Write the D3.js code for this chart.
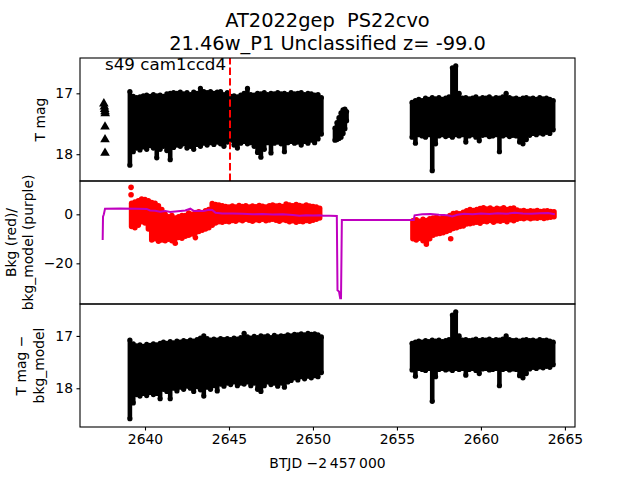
<!DOCTYPE html>
<html><head><meta charset="utf-8">
<script src="https://cdn.jsdelivr.net/npm/d3@7"></script>
<style>body{margin:0;background:#fff}svg{display:block}text{font-family:"DejaVu Sans",sans-serif;white-space:pre}</style>
</head><body><svg id="c" width="640" height="480"></svg>
<script>
// ---------- data ----------
const titleLines = ["AT2022gep  PS22cvo", "21.46w_P1 Unclassified z= -99.0"];
const sectorLabel = "s49 cam1ccd4";
const xTicks = [2640, 2645, 2650, 2655, 2660, 2665];
const magTicks = [17, 18];
const bkgTicks = [0, -20];
const markerTime = 2645.06;
// upper limits (triangles) [t, mag]
const upperLimits = [[2637.55,17.17],[2637.58,17.22],[2637.6,17.26],[2637.62,17.3],[2637.63,17.33],[2637.62,17.55],[2637.62,17.76],[2637.62,17.98]];
// top panel: binned light curve envelope [t, brightest, faintest]
const lcTop1 = [[2639.1,16.97,18.18],[2639.3,17.05,17.96],[2639.5,17.07,17.9],[2639.7,17.06,17.93],[2639.9,17.04,17.88],[2640.1,17.03,17.92],[2640.3,17.05,17.86],[2640.5,17.02,17.9],[2640.7,17.04,18.06],[2640.9,17.03,17.92],[2641.1,17.05,17.87],[2641.3,17.01,17.94],[2641.5,17.0,18.09],[2641.7,16.99,17.89],[2641.9,17.0,17.85],[2642.1,16.98,17.87],[2642.3,17.01,17.83],[2642.5,16.99,17.9],[2642.7,17.02,17.87],[2642.9,16.98,17.92],[2643.1,17.0,17.84],[2643.3,16.92,17.87],[2643.5,16.97,17.82],[2643.7,16.99,17.85],[2643.9,16.97,17.81],[2644.1,17.0,17.84],[2644.3,16.98,17.8],[2644.5,16.97,17.83],[2644.7,17.02,17.87],[2644.9,16.99,17.8],[2645.1,17.05,17.77],[2645.3,17.04,17.85],[2645.5,17.06,17.9],[2645.7,17.03,17.82],[2645.9,17.0,17.79],[2646.1,16.92,17.83],[2646.3,17.02,17.81],[2646.5,17.03,17.87],[2646.7,17.0,17.97],[2646.9,17.01,18.05],[2647.1,16.99,17.92],[2647.3,17.02,17.81],[2647.5,17.0,17.98],[2647.7,17.01,17.82],[2647.9,16.99,17.8],[2648.1,17.01,17.83],[2648.3,17.0,17.96],[2648.5,17.02,17.81],[2648.7,16.99,17.79],[2648.9,17.01,17.82],[2649.1,17.0,17.8],[2649.3,16.99,17.85],[2649.5,17.02,17.79],[2649.7,17.0,17.82],[2649.9,17.01,17.77],[2650.1,17.03,17.81],[2650.3,17.02,17.75],[2650.5,17.07,17.67]];
const lcTopBlob = [[2651.31,17.57,17.77],[2651.43,17.48,17.76],[2651.55,17.4,17.74],[2651.67,17.32,17.72],[2651.79,17.27,17.66],[2651.9,17.26,17.58],[2652.0,17.3,17.45]];
const lcTop3 = [[2655.9,17.15,17.72],[2656.1,17.12,17.82],[2656.3,17.1,17.68],[2656.5,17.12,17.7],[2656.7,17.08,17.72],[2656.9,17.1,17.68],[2657.1,17.07,18.27],[2657.3,17.09,17.83],[2657.5,17.07,17.7],[2657.7,17.1,17.68],[2657.9,17.08,17.71],[2658.1,17.06,17.69],[2658.3,16.58,17.72],[2658.5,16.55,17.68],[2658.7,17.0,17.7],[2658.9,17.08,17.68],[2659.1,17.07,17.8],[2659.3,17.09,17.7],[2659.5,17.08,17.68],[2659.7,17.06,17.72],[2659.9,17.09,17.78],[2660.1,17.07,17.69],[2660.3,17.08,17.68],[2660.5,17.06,17.71],[2660.7,17.09,17.7],[2660.9,17.07,17.68],[2661.1,17.08,17.96],[2661.3,17.06,17.7],[2661.5,17.0,17.68],[2661.7,17.07,17.71],[2661.9,17.09,17.69],[2662.1,17.08,17.7],[2662.3,17.1,17.8],[2662.5,17.08,17.83],[2662.7,17.07,17.76],[2662.9,17.09,17.69],[2663.1,17.08,17.66],[2663.3,17.1,17.68],[2663.5,17.07,17.65],[2663.7,17.09,17.67],[2663.9,17.08,17.64],[2664.1,17.1,17.66],[2664.3,17.12,17.6]];
// middle panel: background flux envelope [t, high, low] and outliers
const bkg1 = [[2639.2,4.5,-5.0],[2639.4,5.0,-5.5],[2639.6,5.5,-4.5],[2639.8,6.3,-3.0],[2640.0,6.0,-3.5],[2640.2,5.5,-6.0],[2640.4,4.8,-10.5],[2640.6,4.5,-10.0],[2640.8,3.5,-11.0],[2641.0,2.0,-10.5],[2641.2,0.0,-10.8],[2641.4,-1.0,-10.2],[2641.6,-0.5,-10.8],[2641.8,-1.5,-10.0],[2642.0,-1.0,-9.5],[2642.2,-0.5,-9.8],[2642.4,-0.5,-9.0],[2642.6,0.5,-8.5],[2642.8,0.0,-8.0],[2643.0,0.5,-7.5],[2643.2,1.0,-7.0],[2643.4,0.5,-6.5],[2643.6,1.5,-6.0],[2643.8,2.0,-5.5],[2644.0,4.4,-4.5],[2644.2,4.0,-3.5],[2644.4,3.8,-3.0],[2644.6,3.5,-3.2],[2644.8,3.2,-2.8],[2645.0,3.0,-3.0],[2645.2,3.4,-2.5],[2645.4,3.0,-2.8],[2645.6,3.6,-2.2],[2645.8,3.2,-2.6],[2646.0,3.5,-2.0],[2646.2,3.0,-2.4],[2646.4,3.4,-2.8],[2646.6,3.1,-2.2],[2646.8,3.6,-2.5],[2647.0,3.3,-2.0],[2647.2,3.0,-2.6],[2647.4,3.5,-2.3],[2647.6,3.8,-2.0],[2647.8,3.4,-2.4],[2648.0,3.6,-2.8],[2648.2,3.2,-2.2],[2648.4,4.2,-2.5],[2648.6,3.8,-3.0],[2648.8,3.5,-2.6],[2649.0,4.0,-3.2],[2649.2,3.6,-2.8],[2649.4,3.3,-3.0],[2649.6,3.8,-2.5],[2649.8,3.4,-2.8],[2650.0,3.2,-2.4],[2650.2,3.0,-2.0],[2650.4,2.5,-1.5]];
const bkg3 = [[2655.95,-2.6,-10.0],[2656.15,-2.2,-10.5],[2656.35,-2.8,-9.8],[2656.55,-2.0,-10.8],[2656.75,-2.5,-12.2],[2656.95,-1.8,-10.0],[2657.15,-1.5,-8.5],[2657.35,-1.2,-8.0],[2657.55,-1.8,-7.8],[2657.75,-1.0,-7.5],[2657.95,-1.4,-7.0],[2658.15,-0.5,-6.5],[2658.35,0.3,-5.8],[2658.55,0.5,-5.5],[2658.75,0.2,-5.0],[2658.95,0.8,-4.8],[2659.15,1.5,-4.0],[2659.35,2.0,-3.8],[2659.55,1.6,-3.5],[2659.75,2.0,-3.2],[2659.95,2.4,-3.6],[2660.15,2.7,-2.8],[2660.35,2.2,-3.0],[2660.55,2.6,-2.5],[2660.75,2.0,-3.2],[2660.95,2.5,-2.6],[2661.15,2.2,-2.8],[2661.35,2.7,-2.4],[2661.55,2.0,-3.0],[2661.75,2.4,-2.2],[2661.95,2.6,-2.6],[2662.15,1.8,-2.0],[2662.35,1.4,-1.6],[2662.55,1.6,-1.8],[2662.75,1.2,-1.4],[2662.95,1.5,-1.8],[2663.15,1.3,-1.5],[2663.35,1.6,-1.6],[2663.55,1.2,-1.3],[2663.75,1.4,-1.7],[2663.95,1.5,-1.4],[2664.15,1.2,-1.2],[2664.35,1.0,-1.0]];
const bkgOutliers = [[2639.17,11.0],[2639.17,8.0],[2641.8,-11.8],[2643.0,-9.5],[2658.2,-10.0]];
const bkgModel = [[2637.48,-10.5],[2637.5,-1.0],[2637.55,0.0],[2637.62,2.3],[2638.5,2.4],[2639.5,2.3],[2640.1,2.2],[2640.3,1.6],[2640.6,1.5],[2640.9,1.1],[2641.2,1.4],[2641.5,1.0],[2641.8,1.2],[2642.1,1.4],[2642.4,1.6],[2642.7,2.3],[2642.9,1.4],[2643.2,1.5],[2643.5,1.4],[2643.8,1.9],[2644.0,1.8],[2644.2,0.6],[2644.6,0.3],[2645.2,0.3],[2645.8,0.2],[2646.4,0.0],[2647.0,0.1],[2647.6,-0.1],[2648.2,0.0],[2648.8,-0.3],[2649.2,-0.6],[2649.6,-0.4],[2650.0,-0.5],[2650.4,-0.4],[2650.6,-0.6],[2651.0,-0.6],[2651.42,-0.7],[2651.46,-31.0],[2651.55,-31.5],[2651.62,-34.3],[2651.67,-34.3],[2651.72,-2.3],[2656.0,-2.3],[2656.05,-0.4],[2656.5,0.0],[2657.0,0.1],[2657.5,-0.2],[2658.0,-0.4],[2658.3,-0.9],[2658.6,-0.2],[2659.0,0.2],[2659.5,0.0],[2660.0,0.3],[2660.5,0.1],[2661.0,0.4],[2661.5,0.2],[2662.0,0.6],[2662.5,0.3],[2663.0,0.2],[2663.5,0.4],[2664.0,0.5],[2664.4,0.0]];
// bottom panel: background-subtracted envelope [t, brightest, faintest]
const lcBot1 = [[2639.1,17.08,18.58],[2639.3,17.15,18.28],[2639.5,17.19,18.12],[2639.7,17.17,18.15],[2639.9,17.2,18.1],[2640.1,17.16,18.14],[2640.3,17.18,18.08],[2640.5,17.15,18.12],[2640.7,17.17,18.1],[2640.9,17.14,18.2],[2641.1,17.12,18.02],[2641.3,17.14,18.06],[2641.5,17.11,18.2],[2641.7,17.13,18.0],[2641.9,17.1,18.05],[2642.1,17.12,17.98],[2642.3,17.09,18.02],[2642.5,17.11,17.96],[2642.7,17.08,18.0],[2642.9,17.1,18.06],[2643.1,17.07,17.97],[2643.3,17.04,18.03],[2643.5,17.0,18.15],[2643.7,17.05,17.98],[2643.9,17.08,18.02],[2644.1,17.06,17.95],[2644.3,17.08,18.05],[2644.5,17.05,17.92],[2644.7,17.07,17.96],[2644.9,17.05,17.9],[2645.1,17.07,17.93],[2645.3,17.04,17.88],[2645.5,17.06,17.95],[2645.7,17.03,17.9],[2645.9,16.95,17.92],[2646.1,17.02,17.88],[2646.3,17.04,17.95],[2646.5,17.01,17.9],[2646.7,17.03,18.02],[2646.9,17.0,18.06],[2647.1,17.02,17.95],[2647.3,17.0,17.88],[2647.5,17.03,17.93],[2647.7,16.99,17.9],[2647.9,17.02,17.96],[2648.1,17.0,17.9],[2648.3,17.01,17.98],[2648.5,16.98,17.88],[2648.7,17.0,17.85],[2648.9,16.97,17.8],[2649.1,16.98,17.84],[2649.3,16.96,17.78],[2649.5,16.98,17.82],[2649.7,16.95,17.77],[2649.9,16.97,17.8],[2650.1,16.96,17.76],[2650.3,16.98,17.78],[2650.5,17.02,17.7]];
const lcBot3 = [[2655.9,17.14,17.65],[2656.1,17.12,17.77],[2656.3,17.1,17.62],[2656.5,17.12,17.64],[2656.7,17.09,17.66],[2656.9,17.11,17.62],[2657.1,17.08,18.25],[2657.3,17.1,17.78],[2657.5,17.08,17.64],[2657.7,17.11,17.62],[2657.9,17.09,17.65],[2658.1,17.07,17.63],[2658.3,16.6,17.66],[2658.5,16.54,17.62],[2658.7,17.0,17.64],[2658.9,17.08,17.62],[2659.1,17.07,17.75],[2659.3,17.09,17.64],[2659.5,17.08,17.62],[2659.7,17.06,17.66],[2659.9,17.09,17.72],[2660.1,17.07,17.63],[2660.3,17.08,17.62],[2660.5,17.06,17.65],[2660.7,17.09,17.64],[2660.9,17.07,17.62],[2661.1,17.08,17.95],[2661.3,17.06,17.64],[2661.5,17.0,17.62],[2661.7,17.07,17.65],[2661.9,17.09,17.63],[2662.1,17.08,17.64],[2662.3,17.1,17.76],[2662.5,17.08,17.8],[2662.7,17.07,17.72],[2662.9,17.09,17.63],[2663.1,17.08,17.6],[2663.3,17.1,17.62],[2663.5,17.07,17.59],[2663.7,17.09,17.61],[2663.9,17.08,17.58],[2664.1,17.1,17.6],[2664.3,17.12,17.55]];

// ---------- layout ----------
const L = 80, R = 575;
const P = [[58,181],[181,304],[304,427]];
const svg = d3.select("#c");
const x = d3.scaleLinear().domain([2636.13, 2665.6]).range([L, R]);
const yTop = d3.scaleLinear().domain([16.42, 18.44]).range([P[0][0], P[0][1]]);
const yMid = d3.scaleLinear().domain([-36.6, 13.6]).range([P[1][1], P[1][0]]);
const yBot = d3.scaleLinear().domain([16.39, 18.74]).range([P[2][0], P[2][1]]);

const defs = svg.append("defs");
P.forEach((p,i)=>{
  defs.append("clipPath").attr("id","cp"+i).append("rect")
    .attr("x",L).attr("y",p[0]).attr("width",R-L).attr("height",p[1]-p[0]);
});
const gTop = svg.append("g").attr("clip-path","url(#cp0)");
const gMid = svg.append("g").attr("clip-path","url(#cp1)");
const gBot = svg.append("g").attr("clip-path","url(#cp2)");

function drawBand(g, data, y, w, r){
  const gg = g.append("g");
  gg.selectAll("line").data(data).join("line")
    .attr("x1",d=>x(d[0])).attr("x2",d=>x(d[0]))
    .attr("y1",d=>y(d[1])).attr("y2",d=>y(d[2]))
    .attr("stroke","#000").attr("stroke-width",w);
  gg.selectAll("circle.a").data(data).join("circle").attr("class","a")
    .attr("cx",d=>x(d[0])).attr("cy",d=>y(d[1])).attr("r",r).attr("fill","#000");
  gg.selectAll("circle.b").data(data).join("circle").attr("class","b")
    .attr("cx",d=>x(d[0])).attr("cy",d=>y(d[2])).attr("r",r).attr("fill","#000");
}
function drawRed(g, data){
  g.append("g").selectAll("line").data(data).join("line")
    .attr("x1",d=>x(d[0])).attr("x2",d=>x(d[0]))
    .attr("y1",d=>yMid(d[1])).attr("y2",d=>yMid(d[2]))
    .attr("stroke","#ff0000").attr("stroke-width",5.5).attr("stroke-linecap","round");
}

// top panel
drawBand(gTop, lcTop1, yTop, 4.6, 2.6);
drawBand(gTop, lcTopBlob, yTop, 4.6, 2.6);
drawBand(gTop, lcTop3, yTop, 4.6, 2.6);
gTop.selectAll("path.tri").data(upperLimits).join("path").attr("class","tri")
  .attr("d", d3.symbol(d3.symbolTriangle, 40))
  .attr("transform", d=>`translate(${x(d[0])},${yTop(d[1])})`).attr("fill","#000");
gTop.append("line").attr("x1",x(markerTime)).attr("x2",x(markerTime))
  .attr("y1",P[0][1]).attr("y2",P[0][0])
  .attr("stroke","#ff0000").attr("stroke-width",2).attr("stroke-dasharray","7.4,3.2");

// middle panel
drawRed(gMid, bkg1);
drawRed(gMid, bkg3);
gMid.selectAll("circle.o").data(bkgOutliers).join("circle").attr("class","o")
  .attr("cx",d=>x(d[0])).attr("cy",d=>yMid(d[1])).attr("r",2.8).attr("fill","#ff0000");
gMid.append("path").datum(bkgModel)
  .attr("d", d3.line().x(d=>x(d[0])).y(d=>yMid(d[1])))
  .attr("fill","none").attr("stroke","#bf00bf").attr("stroke-width",2);

// bottom panel
drawBand(gBot, lcBot1, yBot, 4.6, 2.6);
drawBand(gBot, lcBot3, yBot, 4.6, 2.6);

// frames
P.forEach(p=>{
  svg.append("rect").attr("x",L).attr("y",p[0]).attr("width",R-L).attr("height",p[1]-p[0])
    .attr("fill","none").attr("stroke","#000").attr("stroke-width",1.1);
});

// axes
function styleAxis(g){
  g.select(".domain").remove();
  g.selectAll(".tick line").attr("stroke","#000").attr("stroke-width",1.1);
  g.selectAll(".tick text").attr("font-size","13.9px").attr("fill","#000")
    .attr("font-family","DejaVu Sans, sans-serif");
}
svg.append("g").attr("transform",`translate(${L},0)`)
  .call(d3.axisLeft(yTop).tickValues(magTicks).tickSize(3.5).tickPadding(3.5).tickFormat(d3.format("d"))).call(styleAxis);
svg.append("g").attr("transform",`translate(${L},0)`)
  .call(d3.axisLeft(yMid).tickValues(bkgTicks).tickSize(3.5).tickPadding(3.5).tickFormat(d3.format("d"))).call(styleAxis);
svg.append("g").attr("transform",`translate(${L},0)`)
  .call(d3.axisLeft(yBot).tickValues(magTicks).tickSize(3.5).tickPadding(3.5).tickFormat(d3.format("d"))).call(styleAxis);
svg.append("g").attr("transform",`translate(0,${P[2][1]})`)
  .call(d3.axisBottom(x).tickValues(xTicks).tickSize(3.5).tickPadding(3.5).tickFormat(d3.format("d"))).call(styleAxis);

// texts
svg.append("text").attr("x",327.5).attr("y",27).attr("text-anchor","middle")
  .attr("font-size","19.4px").attr("xml:space","preserve").text(titleLines[0]);
svg.append("text").attr("x",327.5).attr("y",50).attr("text-anchor","middle")
  .attr("font-size","19.4px").text(titleLines[1]);
svg.append("text").attr("x",105).attr("y",70).attr("font-size","16.7px").text(sectorLabel);
svg.append("text").attr("x",327.5).attr("y",468).attr("text-anchor","middle")
  .attr("font-size","13.9px").text("BTJD \u22122\u2009457\u2009000");

function yLabel(cx, cy, t){
  svg.append("text").attr("transform",`translate(${cx},${cy}) rotate(-90)`)
    .attr("text-anchor","middle").attr("dy","0.35em").attr("font-size","13.9px").text(t);
}
yLabel(40, 119.5, "T mag");
yLabel(11.5, 242.5, "Bkg (red)/");
yLabel(28.5, 242.5, "bkg_model (purple)");
yLabel(21.5, 365.5, "T mag \u2212");
yLabel(39, 365.5, "bkg_model");
</script></body></html>
